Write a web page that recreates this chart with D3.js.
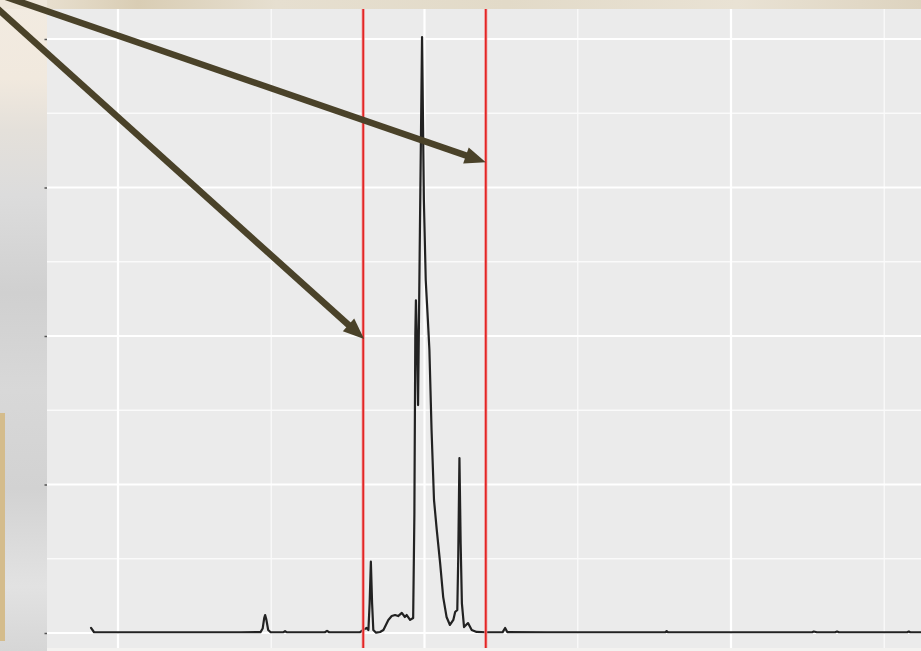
<!DOCTYPE html>
<html><head><meta charset="utf-8">
<script src="https://cdn.jsdelivr.net/npm/d3@7"></script>
<style>html,body{margin:0;padding:0;background:#f4f1ec;}svg{display:block;}</style>
</head><body>
<svg id="chart" width="921" height="651"></svg>
<script>
// ---- data ----
const time = [9.12,9.22,10.0,12.0,14.0,14.65,14.72,14.77,14.80,14.84,14.90,14.98,15.40,15.45,15.50,16.0,16.75,16.82,16.89,17.90,17.99,18.06,18.11,18.17,18.21,18.25,18.29,18.33,18.42,18.55,18.66,18.82,18.93,19.04,19.14,19.26,19.36,19.42,19.53,19.63,19.67,19.70,19.72,19.76,19.79,19.85,19.92,19.98,20.04,20.08,20.11,20.16,20.23,20.31,20.40,20.51,20.61,20.72,20.83,20.94,21.00,21.07,21.10,21.14,21.18,21.22,21.29,21.42,21.54,21.70,22.0,22.55,22.63,22.70,24.0,27.85,27.90,27.95,32.65,32.70,32.80,33.40,33.46,33.52,35.75,35.80,35.85,37.0];
const signal = [0.034,0.005,0.005,0.005,0.005,0.006,0.03,0.10,0.121,0.09,0.02,0.005,0.006,0.012,0.006,0.005,0.005,0.014,0.005,0.006,0.020,0.028,0.034,0.020,0.2,0.48,0.2,0.020,0.002,0.007,0.020,0.088,0.114,0.121,0.114,0.135,0.108,0.121,0.088,0.101,0.8,2.0,2.24,1.9,1.535,2.7,4.013,2.916,2.377,2.222,2.108,1.906,1.367,0.896,0.694,0.471,0.242,0.108,0.054,0.088,0.141,0.155,0.5,1.178,0.6,0.2,0.040,0.067,0.020,0.007,0.005,0.006,0.034,0.006,0.005,0.005,0.013,0.005,0.005,0.01,0.005,0.005,0.01,0.005,0.005,0.01,0.005,0.005];
const xMajor = [10, 20, 30];
const xMinor = [15, 25, 35];
const yMajor = [0, 1, 2, 3, 4];
const yMinor = [0.5, 1.5, 2.5, 3.5];
const cutLines = [18, 22];
// annotation arrows: tail (off-canvas, upper-left) and tip, in data units
const arrowTailX = [5.497, 5.497];
const arrowTailY = [4.310, 4.343];
const arrowTipX = [18.03, 22.0];
const arrowTipY = [1.98, 3.17];

// ---- layout ----
const W = 921, H = 651;
const panel = {left: 47, top: 9, right: 921, bottom: 648};
const x = d3.scaleLinear().domain([7.6835, 36.199]).range([panel.left, panel.right]);
const y = d3.scaleLinear().domain([-0.101, 4.202]).range([panel.bottom, panel.top]);

const svg = d3.select("#chart");
const defs = svg.append("defs");

// backdrop (photo-like slide background)
const gTop = defs.append("linearGradient").attr("id","gTop").attr("x1","0").attr("x2","1").attr("y1","0").attr("y2","0");
[[0,"#efe8dc"],[0.15,"#d9cdb4"],[0.3,"#e6dfd0"],[0.55,"#e2dac8"],[0.8,"#e9e2d4"],[1,"#ddd3bf"]].forEach(s=>gTop.append("stop").attr("offset",s[0]).attr("stop-color",s[1]));
const gLeft = defs.append("linearGradient").attr("id","gLeft").attr("x1","0").attr("x2","0").attr("y1","0").attr("y2","1");
[[0,"#f2ebe1"],[0.12,"#f1e9de"],[0.2,"#e4e0da"],[0.3,"#dcdcdc"],[0.45,"#d0d0d0"],[0.6,"#d8d8d8"],[0.75,"#d2d2d2"],[0.9,"#e2e2e2"],[1,"#d6d6d6"]].forEach(s=>gLeft.append("stop").attr("offset",s[0]).attr("stop-color",s[1]));

svg.append("rect").attr("x",0).attr("y",0).attr("width",W).attr("height",H).attr("fill","#f3f2f0");
svg.append("rect").attr("x",0).attr("y",0).attr("width",W).attr("height",panel.top).attr("fill","url(#gTop)");
svg.append("rect").attr("x",0).attr("y",0).attr("width",panel.left).attr("height",H).attr("fill","url(#gLeft)");
svg.append("rect").attr("x",0).attr("y",0).attr("width",panel.left).attr("height",panel.top).attr("fill","#efe7da");
svg.append("rect").attr("x",0).attr("y",413).attr("width",5).attr("height",228).attr("fill","#d4bc8c");

// panel
svg.append("rect").attr("x",panel.left).attr("y",panel.top)
  .attr("width",panel.right-panel.left).attr("height",panel.bottom-panel.top).attr("fill","#ebebeb");

defs.append("clipPath").attr("id","clip").append("rect")
  .attr("x",panel.left).attr("y",panel.top).attr("width",panel.right-panel.left).attr("height",panel.bottom-panel.top);
const g = svg.append("g").attr("clip-path","url(#clip)");

// grid
g.selectAll(".vmin").data(xMinor).join("line").attr("x1",d=>x(d)).attr("x2",d=>x(d))
  .attr("y1",panel.top).attr("y2",panel.bottom).attr("stroke","#fafafa").attr("stroke-width",1.3);
g.selectAll(".hmin").data(yMinor).join("line").attr("y1",d=>y(d)).attr("y2",d=>y(d))
  .attr("x1",panel.left).attr("x2",panel.right).attr("stroke","#fafafa").attr("stroke-width",1.3);
g.selectAll(".vmaj").data(xMajor).join("line").attr("x1",d=>x(d)).attr("x2",d=>x(d))
  .attr("y1",panel.top).attr("y2",panel.bottom).attr("stroke","#ffffff").attr("stroke-width",2.2);
g.selectAll(".hmaj").data(yMajor).join("line").attr("y1",d=>y(d)).attr("y2",d=>y(d))
  .attr("x1",panel.left).attr("x2",panel.right).attr("stroke","#ffffff").attr("stroke-width",2.2);

// y axis ticks (labels hidden behind slide background)
const ax = svg.append("g").attr("transform",`translate(${panel.left},0)`)
  .call(d3.axisLeft(y).tickValues(yMajor).tickSize(2.5).tickFormat(""));
ax.select(".domain").remove();
ax.selectAll("line").attr("stroke","#555").attr("stroke-width",1.5);

// signal
const pts = time.map((t,i)=>[t, signal[i]]);
g.append("path").datum(pts)
  .attr("d", d3.line().x(d=>x(d[0])).y(d=>y(d[1])))
  .attr("fill","none").attr("stroke","#222").attr("stroke-width",2.2)
  .attr("stroke-linejoin","round").attr("stroke-linecap","round");

// red cut lines
g.selectAll(".cut").data(cutLines).join("line")
  .attr("x1",d=>x(d)).attr("x2",d=>x(d)).attr("y1",panel.top).attr("y2",panel.bottom)
  .attr("stroke","#f08a8a").attr("stroke-width",3);
g.selectAll(".cut2").data(cutLines).join("line")
  .attr("x1",d=>x(d)).attr("x2",d=>x(d)).attr("y1",panel.top).attr("y2",panel.bottom)
  .attr("stroke","#e01a1a").attr("stroke-width",1.4);

// arrows
const arrowColor = "#4a4229";
const headLen = 21, headHalf = 8.5;
arrowTipX.forEach((tx,i)=>{
  const x0 = x(arrowTailX[i]), y0 = y(arrowTailY[i]);
  const x1 = x(tx), y1 = y(arrowTipY[i]);
  const dx = x1-x0, dy = y1-y0, L = Math.hypot(dx,dy);
  const ux = dx/L, uy = dy/L;
  const bx = x1-ux*headLen, by = y1-uy*headLen;
  svg.append("line").attr("x1",x0).attr("y1",y0).attr("x2",bx+ux*2).attr("y2",by+uy*2)
    .attr("stroke",arrowColor).attr("stroke-width",6.5);
  svg.append("polygon")
    .attr("points",[[x1,y1],[bx-uy*headHalf,by+ux*headHalf],[bx+uy*headHalf,by-ux*headHalf]].map(p=>p.join(",")).join(" "))
    .attr("fill",arrowColor);
});
</script>
</body></html>
